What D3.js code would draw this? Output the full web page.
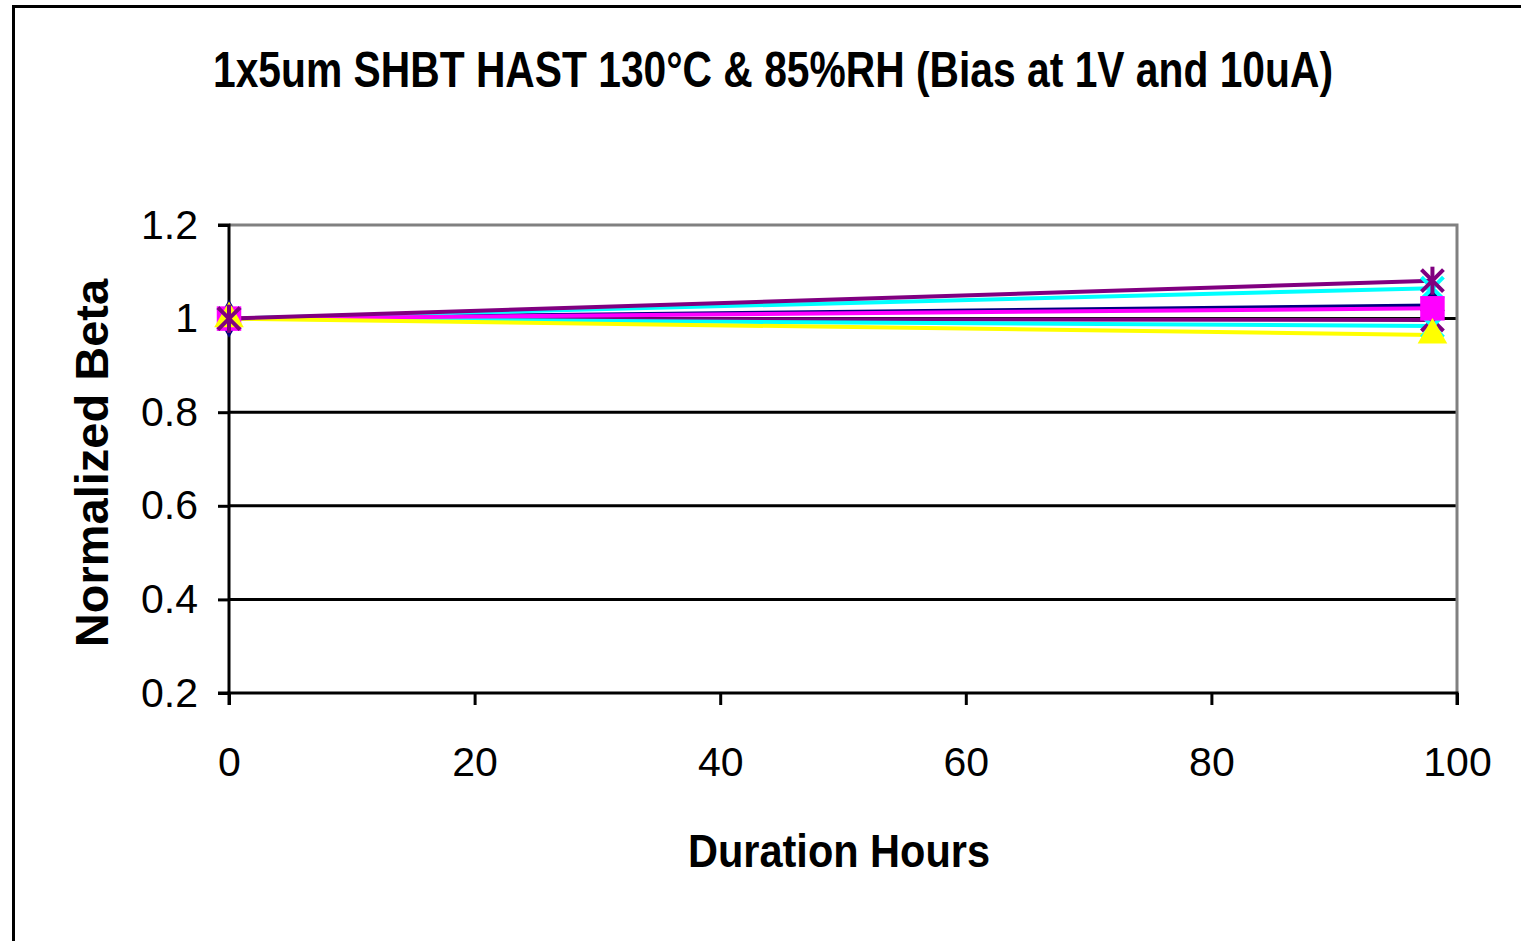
<!DOCTYPE html>
<html>
<head>
<meta charset="utf-8">
<script src="https://cdn.jsdelivr.net/npm/d3@7"></script>
<style>
  body { margin: 0; background: #fff; }
  svg { display: block; }
</style>
</head>
<body>
<div class="chart"></div>
<script>
// data
const hours = [0, 98];
const seriesNames = ["S1", "S2", "S3", "S4", "S5", "S6", "S7"];
const seriesColors = ["#000080", "#00FFFF", "#800080", "#00FFFF", "#FF00FF", "#FFFF00", "#800080"];
const seriesMarkers = ["diamond", "x", "star", "x", "square", "triangle", "star"];
const beta0 = [1, 1, 1, 1, 1, 1, 1];
const beta98 = [1.028, 1.065, 0.997, 0.984, 1.022, 0.965, 1.081];
const yTicks = [0.2, 0.4, 0.6, 0.8, 1, 1.2];
const xTicks = [0, 20, 40, 60, 80, 100];

const W = 1521, H = 941;
const margin = ({top: 225, right: 64, bottom: 248, left: 229});
const width = W - margin.left - margin.right;
const height = H - margin.top - margin.bottom;

const svg = d3.select('.chart').append('svg')
    .attr('width', W)
    .attr('height', H);

// outer chart border (runs off the right and bottom)
svg.append('rect')
    .attr('x', 13.5).attr('y', 6.5)
    .attr('width', W + 20).attr('height', H + 20)
    .attr('fill', 'none')
    .attr('stroke', '#000')
    .attr('stroke-width', 3);

const plot = svg.append('g')
    .attr('transform', `translate(${margin.left},${margin.top})`);

const xScale = d3.scaleLinear().domain([0, 100]).range([0, width]);
const yScale = d3.scaleLinear().domain([0.2, 1.2]).range([height, 0]);

// gridlines
plot.selectAll('line.grid')
    .data(yTicks.filter(d => d > 0.2 && d < 1.2))
    .enter().append('line')
    .attr('class', 'grid')
    .attr('x1', 0).attr('x2', width)
    .attr('y1', d => yScale(d)).attr('y2', d => yScale(d))
    .attr('stroke', '#000')
    .attr('stroke-width', 3);

// grey plot area border top / right
plot.append('path')
    .attr('d', `M0,${yScale(1.2)}H${width}V${height}`)
    .attr('fill', 'none')
    .attr('stroke', '#808080')
    .attr('stroke-width', 3);

const xAxis = d3.axisBottom(xScale).tickValues(xTicks).tickSize(12).tickPadding(42);
const yAxis = d3.axisLeft(yScale).tickValues(yTicks).tickSize(11).tickPadding(20)
    .tickFormat(d => d3.format('')(d));

const gx = plot.append('g')
    .attr('transform', `translate(0,${height})`)
    .call(xAxis);
const gy = plot.append('g').call(yAxis);

[gx, gy].forEach(g => {
  g.select('.domain').attr('stroke', '#000').attr('stroke-width', 3);
  g.selectAll('.tick line').attr('stroke', '#000').attr('stroke-width', 3);
  g.selectAll('.tick text')
    .attr('fill', '#000')
    .attr('font-family', 'Liberation Sans, Arial, sans-serif')
    .attr('font-size', '41px');
});
gx.select('.domain').attr('d', `M0,12V0H${width}V12`);
gy.select('.domain').attr('d', `M-11,0H0V${height}H-11`);

// lines
const rows = seriesNames.map((name, i) => ({
  name: name,
  color: seriesColors[i],
  marker: seriesMarkers[i],
  values: [{x: hours[0], y: beta0[i]}, {x: hours[1], y: beta98[i]}]
}));

const line = d3.line().x(d => xScale(d.x)).y(d => yScale(d.y));

plot.selectAll('path.series')
    .data(rows)
    .enter().append('path')
    .attr('class', 'series')
    .attr('d', d => line(d.values))
    .attr('fill', 'none')
    .attr('stroke', d => d.color)
    .attr('stroke-width', 4);

// markers
const sym = {
  diamond: [d3.symbolDiamond, 420],
  square: [d3.symbolSquare, 600],
  triangle: [d3.symbolTriangle, 380]
};

rows.forEach(s => {
  s.values.forEach(v => {
    const cx = xScale(v.x), cy = yScale(v.y);
    const g = plot.append('g').attr('transform', `translate(${cx},${cy})`);
    if (s.marker === 'star' || s.marker === 'x') {
      g.append('path').attr('d', 'M-11,-11L11,11M-11,11L11,-11')
        .attr('fill', 'none').attr('stroke', s.color).attr('stroke-width', 4);
      if (s.marker === 'star') {
        g.append('path').attr('d', 'M0,-14V14')
          .attr('stroke', s.color).attr('stroke-width', 4);
      }
    } else {
      g.append('path').attr('d', d3.symbol(sym[s.marker][0], sym[s.marker][1])())
        .attr('fill', s.color);
    }
  });
});

// title
svg.append('text')
    .attr('x', 773).attr('y', 87)
    .attr('text-anchor', 'middle')
    .attr('font-family', 'Liberation Sans Narrow, Arial Narrow, Liberation Sans, sans-serif')
    .attr('font-weight', 'bold')
    .attr('font-size', '50px')
    .attr('textLength', 1120)
    .attr('lengthAdjust', 'spacingAndGlyphs')
    .text('1x5um SHBT HAST 130°C & 85%RH (Bias at 1V and 10uA)');

// axis titles
svg.append('text')
    .attr('x', 839).attr('y', 867)
    .attr('text-anchor', 'middle')
    .attr('font-family', 'Liberation Sans, Arial, sans-serif')
    .attr('font-weight', 'bold')
    .attr('font-size', '46px')
    .attr('textLength', 302)
    .attr('lengthAdjust', 'spacingAndGlyphs')
    .text('Duration Hours');

svg.append('text')
    .attr('transform', 'translate(108,463) rotate(-90)')
    .attr('text-anchor', 'middle')
    .attr('font-family', 'Liberation Sans, Arial, sans-serif')
    .attr('font-weight', 'bold')
    .attr('font-size', '47px')
    .text('Normalized Beta');
</script>
</body>
</html>
